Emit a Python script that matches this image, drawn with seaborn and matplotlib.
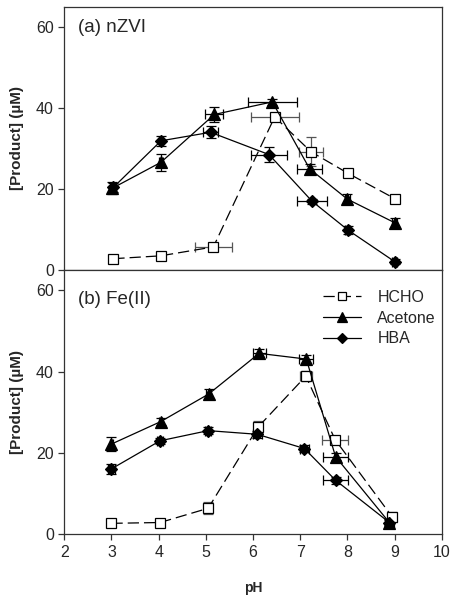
import numpy as np
import pandas as pd
import matplotlib
matplotlib.use("Agg")
import matplotlib.pyplot as plt
import seaborn as sns

# -----------------------------
# Data
# -----------------------------

# (a) nZVI
ph_a_hcho = [3.04, 4.04, 5.16, 6.46, 7.23, 8.01, 9.01]
hcho_a = [2.8, 3.5, 5.7, 37.8, 29.2, 23.9, 17.6]
hcho_a_yerr = [0.4, 0.4, 0.6, 1.0, 3.6, 0.6, 0.5]
hcho_a_xerr = [0.0, 0.0, 0.39, 0.51, 0.25, 0.0, 0.0]

ph_a_acet = [3.02, 4.05, 5.18, 6.41, 7.20, 8.00, 9.00]
acet_a = [20.2, 26.6, 38.4, 41.5, 25.0, 17.5, 11.7]
acet_a_yerr = [1.5, 2.1, 1.9, 0.8, 1.2, 1.2, 1.1]
acet_a_xerr = [0.03, 0.05, 0.19, 0.52, 0.26, 0.05, 0.05]

ph_a_hba = [3.04, 4.05, 5.10, 6.34, 7.25, 8.01, 9.00]
hba_a = [20.4, 31.9, 34.0, 28.5, 17.0, 9.9, 2.1]
hba_a_yerr = [1.2, 1.2, 1.5, 1.9, 0.6, 1.0, 0.6]
hba_a_xerr = [0.05, 0.05, 0.15, 0.39, 0.31, 0.05, 0.05]

# (b) Fe(II)
ph_b_hcho = [3.00, 4.03, 5.05, 6.11, 7.12, 7.74, 8.95]
hcho_b = [2.7, 2.9, 6.4, 26.4, 38.9, 23.3, 4.3]
hcho_b_yerr = [0.8, 0.8, 1.5, 1.5, 1.2, 1.0, 1.2]
hcho_b_xerr = [0.08, 0.08, 0.05, 0.07, 0.13, 0.27, 0.07]

ph_b_acet = [3.00, 4.04, 5.06, 6.13, 7.13, 7.75, 8.89]
acet_b = [22.2, 27.7, 34.5, 44.5, 43.1, 19.1, 2.9]
acet_b_yerr = [1.7, 0.8, 1.2, 1.0, 1.0, 0.8, 0.8]
acet_b_xerr = [0.03, 0.03, 0.05, 0.14, 0.15, 0.26, 0.05]

ph_b_hba = [3.00, 4.03, 5.05, 6.09, 7.09, 7.75, 8.89]
hba_b = [16.1, 23.0, 25.5, 24.6, 21.1, 13.3, 2.9]
hba_b_yerr = [1.3, 0.8, 0.9, 0.8, 0.8, 0.9, 0.6]
hba_b_xerr = [0.07, 0.07, 0.07, 0.10, 0.10, 0.27, 0.10]

panel_titles = ["(a) nZVI", "(b) Fe(II)"]
series_names = ["HCHO", "Acetone", "HBA"]


sns.set_style("ticks")
plt.rcParams["font.family"] = ["Liberation Sans", "DejaVu Sans"]

fig = plt.figure(figsize=(4.57, 5.99), dpi=100)
ax_a = fig.add_axes([0.1407, 0.5492, 0.8258, 0.4396])
ax_b = fig.add_axes([0.1407, 0.1080, 0.8258, 0.4412])

styles = {
    "HCHO": dict(marker="s", mfc="white", ls=(0, (9, 4)), ecol="#555555", ms=6.5),
    "Acetone": dict(marker="^", mfc="black", ls="-", ecol="black", ms=8.5),
    "HBA": dict(marker="D", mfc="black", ls="-", ecol="black", ms=6),
}


def draw_series(ax, name, x, y, xerr, yerr, label):
    st = styles[name]
    ax.errorbar(x, y, xerr=xerr, yerr=yerr, fmt="none", ecolor=st["ecol"],
                elinewidth=0.9, capsize=3.5, capthick=0.9, zorder=2)
    sns.lineplot(x=x, y=y, ax=ax, sort=False, color="black", linewidth=0.9,
                 linestyle=st["ls"], marker=st["marker"], markersize=st["ms"],
                 markerfacecolor=st["mfc"], markeredgecolor="black",
                 markeredgewidth=0.9, label=label, legend=False, zorder=3)


draw_series(ax_a, "HCHO", ph_a_hcho, hcho_a, hcho_a_xerr, hcho_a_yerr, None)
draw_series(ax_a, "Acetone", ph_a_acet, acet_a, acet_a_xerr, acet_a_yerr, None)
draw_series(ax_a, "HBA", ph_a_hba, hba_a, hba_a_xerr, hba_a_yerr, None)

draw_series(ax_b, "HCHO", ph_b_hcho, hcho_b, hcho_b_xerr, hcho_b_yerr, "HCHO")
draw_series(ax_b, "Acetone", ph_b_acet, acet_b, acet_b_xerr, acet_b_yerr, "Acetone")
draw_series(ax_b, "HBA", ph_b_hba, hba_b, hba_b_xerr, hba_b_yerr, "HBA")

for ax in [ax_a, ax_b]:
    ax.set_xlim(2, 10)
    ax.set_ylim(0, 65)
    ax.set_yticks([0, 20, 40, 60])
    ax.set_xticks(range(2, 11))
    for s in ax.spines.values():
        s.set_linewidth(0.9)
        s.set_color("#333333")
    ax.tick_params(direction="out", length=4, width=0.9, labelsize=11.5,
                   color="#333333")
    ax.set_ylabel("[Product] (\u00b5M)", fontsize=11, fontweight="bold", labelpad=9)
    ax.set_xlabel("")

ax_a.text(0.035, 0.955, panel_titles[0], transform=ax_a.transAxes,
          fontsize=13.5, va="top", ha="left")
ax_b.text(0.035, 0.922, panel_titles[1], transform=ax_b.transAxes,
          fontsize=13.5, va="top", ha="left")

ax_a.set_xticks(range(3, 10))
ax_a.tick_params(axis="x", labelbottom=False)
ax_b.set_xlabel("pH", fontsize=10, fontweight="bold", labelpad=15)

leg = ax_b.legend(loc="upper right", frameon=False, fontsize=11.5,
                  handlelength=2.4, handletextpad=1.0, labelspacing=0.36,
                  markerscale=0.8, borderpad=0, borderaxespad=0,
                  bbox_to_anchor=(0.985, 0.925))

fig.savefig("out.png", dpi=100)
